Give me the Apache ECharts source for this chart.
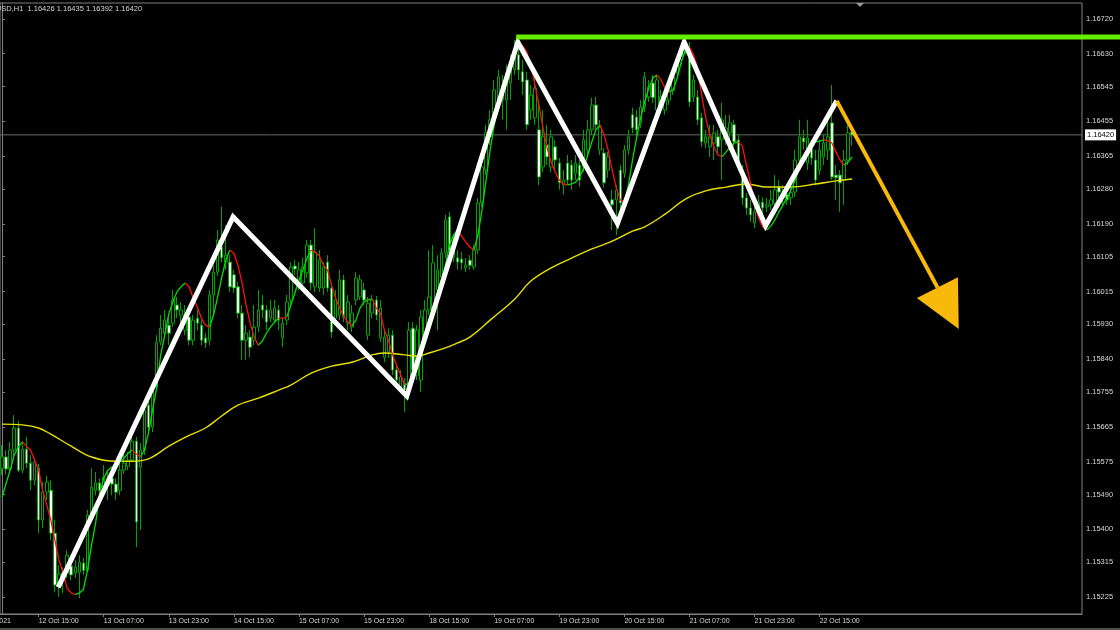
<!DOCTYPE html>
<html><head><meta charset="utf-8">
<script src="https://cdn.jsdelivr.net/npm/echarts@6/dist/echarts.min.js"></script>
<style>html,body{margin:0;padding:0;background:#000;}#c{width:1120px;height:630px;}</style>
</head><body><div id="c"></div>
<script>
// ---------- data ----------
const days = ['12 Oct','13 Oct','14 Oct','15 Oct','18 Oct','19 Oct','20 Oct','21 Oct','22 Oct'];
const firstHour = 6;
const emptySlots = 56;
const timeTicks = ['12 Oct 15:00','13 Oct 07:00','13 Oct 23:00','14 Oct 15:00','15 Oct 07:00','15 Oct 23:00','18 Oct 15:00','19 Oct 07:00','19 Oct 23:00','20 Oct 15:00','21 Oct 07:00','21 Oct 23:00','22 Oct 15:00'];
const priceTicks = [1.16720,1.16630,1.16545,1.16455,1.16365,1.16280,1.16190,1.16105,1.16015,1.15930,1.15840,1.15755,1.15665,1.15575,1.15490,1.15400,1.15315,1.15225];
const yMin = 1.15181, yMax = 1.16761;
const symbolTitle = 'EURUSD,H1  1.16426 1.16435 1.16392 1.16420';
const firstDateLabel = '12 Oct 2021';
const lastPrice = 1.16420;

// [open, close, low, high]
const ohlc = [
[1.15558,1.15587,1.15540,1.15618],[1.15587,1.15556,1.15543,1.15605],[1.15556,1.15605,1.15545,1.15626],[1.15605,1.15662,1.15589,1.15695],
[1.15662,1.15553,1.15548,1.15680],[1.15553,1.15607,1.15545,1.15628],[1.15607,1.15571,1.15558,1.15639],[1.15571,1.15527,1.15501,1.15592],
[1.15527,1.15574,1.15514,1.15584],[1.15558,1.15424,1.15390,1.15569],[1.15424,1.15496,1.15403,1.15522],[1.15496,1.15522,1.15476,1.15538],
[1.15501,1.15390,1.15372,1.15527],[1.15390,1.15256,1.15237,1.15424],[1.15256,1.15284,1.15225,1.15307],[1.15268,1.15289,1.15235,1.15302],
[1.15287,1.15333,1.15274,1.15346],[1.15305,1.15282,1.15268,1.15320],[1.15287,1.15302,1.15274,1.15320],[1.15289,1.15315,1.15222,1.15333],
[1.15313,1.15294,1.15282,1.15326],[1.15294,1.15437,1.15289,1.15450],[1.15437,1.15509,1.15424,1.15558],[1.15501,1.15520,1.15488,1.15548],
[1.15520,1.15501,1.15483,1.15532],[1.15509,1.15535,1.15494,1.15566],[1.15514,1.15532,1.15476,1.15553],[1.15532,1.15517,1.15488,1.15545],
[1.15517,1.15496,1.15476,1.15532],[1.15501,1.15553,1.15488,1.15579],[1.15553,1.15571,1.15543,1.15592],[1.15563,1.15579,1.15553,1.15600],
[1.15579,1.15628,1.15574,1.15644],[1.15628,1.15419,1.15354,1.15639],[1.15561,1.15605,1.15398,1.15623],[1.15605,1.15708,1.15592,1.15721],
[1.15721,1.15664,1.15651,1.15739],[1.15664,1.15768,1.15651,1.15778],[1.15768,1.15884,1.15760,1.15902],[1.15884,1.15920,1.15876,1.15954],
[1.15907,1.15941,1.15895,1.15967],[1.15928,1.15907,1.15876,1.15946],[1.15933,1.15993,1.15923,1.16019],[1.15980,1.15967,1.15946,1.16001],
[1.15954,1.15967,1.15928,1.15988],[1.15915,1.15954,1.15902,1.15980],[1.15949,1.15889,1.15876,1.15959],[1.15889,1.15941,1.15876,1.15954],
[1.15946,1.15933,1.15915,1.15967],[1.15928,1.15889,1.15876,1.15941],[1.15895,1.15882,1.15869,1.15907],[1.15889,1.16006,1.15876,1.16019],
[1.16006,1.16065,1.15954,1.16083],[1.16065,1.16148,1.16055,1.16174],[1.16130,1.16102,1.16091,1.16234],[1.16091,1.16109,1.16071,1.16187],
[1.16091,1.16027,1.16014,1.16109],[1.16058,1.16024,1.16011,1.16071],[1.16027,1.15959,1.15946,1.16040],[1.15959,1.15889,1.15838,1.15980],
[1.15889,1.15907,1.15838,1.15928],[1.15897,1.15871,1.15845,1.15915],[1.15889,1.15923,1.15876,1.15980],[1.15923,1.15967,1.15910,1.16019],
[1.15980,1.15967,1.15946,1.16006],[1.15967,1.15936,1.15915,1.15980],[1.15946,1.15967,1.15936,1.15993],[1.15941,1.15972,1.15936,1.15993],
[1.15967,1.15941,1.15915,1.15980],[1.15895,1.15933,1.15871,1.15946],[1.15941,1.15988,1.15928,1.16006],[1.15993,1.16078,1.15980,1.16091],
[1.16081,1.16073,1.16058,1.16096],[1.16037,1.16071,1.16019,1.16091],[1.16037,1.16078,1.16024,1.16102],[1.16063,1.16135,1.16050,1.16148],
[1.16135,1.16037,1.16019,1.16148],[1.16027,1.16117,1.16014,1.16179],[1.16024,1.16096,1.16014,1.16122],[1.16024,1.16078,1.16006,1.16091],
[1.16091,1.16024,1.16014,1.16109],[1.16024,1.15910,1.15895,1.16037],[1.15946,1.15993,1.15928,1.16019],[1.15954,1.16045,1.15941,1.16071],
[1.16045,1.15949,1.15936,1.16058],[1.15933,1.15988,1.15915,1.16006],[1.15923,1.15959,1.15910,1.15980],[1.15993,1.16050,1.15980,1.16065],
[1.16001,1.16045,1.15993,1.16058],[1.16019,1.15993,1.15980,1.16037],[1.15902,1.15985,1.15889,1.16001],[1.15959,1.15993,1.15946,1.16006],
[1.15993,1.15954,1.15941,1.16003],[1.15895,1.15972,1.15884,1.15993],[1.15845,1.15897,1.15832,1.15915],[1.15858,1.15902,1.15843,1.15920],
[1.15902,1.15812,1.15799,1.15915],[1.15812,1.15786,1.15773,1.15825],[1.15768,1.15794,1.15755,1.15812],[1.15778,1.15760,1.15703,1.15791],
[1.15760,1.15915,1.15747,1.15936],[1.15920,1.15812,1.15799,1.15936],[1.15799,1.15915,1.15786,1.15928],[1.15786,1.15949,1.15755,1.15967],
[1.15897,1.15967,1.15889,1.15993],[1.15967,1.16001,1.15954,1.16122],[1.15967,1.16089,1.15962,1.16135],[1.16019,1.16071,1.15915,1.16109],
[1.16052,1.16115,1.16037,1.16127],[1.16115,1.16200,1.16102,1.16213],[1.16208,1.16122,1.16109,1.16221],[1.16104,1.16148,1.16091,1.16161],
[1.16102,1.16091,1.16071,1.16122],[1.16099,1.16089,1.16071,1.16117],[1.16076,1.16083,1.16065,1.16102],[1.16096,1.16083,1.16071,1.16109],
[1.16078,1.16122,1.16071,1.16135],[1.16122,1.16244,1.16112,1.16257],[1.16244,1.16337,1.16234,1.16355],[1.16329,1.16425,1.16316,1.16446],
[1.16415,1.16459,1.16394,1.16484],[1.16459,1.16536,1.16446,1.16562],[1.16492,1.16570,1.16484,1.16588],[1.16510,1.16549,1.16459,1.16575],
[1.16510,1.16580,1.16433,1.16601],[1.16554,1.16606,1.16510,1.16627],[1.16588,1.16622,1.16575,1.16666],[1.16627,1.16588,1.16562,1.16660],
[1.16583,1.16557,1.16523,1.16614],[1.16562,1.16446,1.16433,1.16583],[1.16484,1.16523,1.16459,1.16549],[1.16464,1.16541,1.16446,1.16588],
[1.16433,1.16311,1.16290,1.16510],[1.16337,1.16415,1.16324,1.16484],[1.16394,1.16363,1.16342,1.16446],[1.16337,1.16415,1.16324,1.16433],
[1.16389,1.16355,1.16329,1.16407],[1.16347,1.16296,1.16278,1.16360],[1.16290,1.16303,1.16265,1.16329],[1.16347,1.16303,1.16290,1.16368],
[1.16342,1.16303,1.16278,1.16355],[1.16321,1.16347,1.16303,1.16368],[1.16342,1.16303,1.16285,1.16355],[1.16337,1.16407,1.16324,1.16433],
[1.16381,1.16433,1.16368,1.16459],[1.16433,1.16497,1.16420,1.16516],[1.16497,1.16446,1.16433,1.16518],[1.16381,1.16440,1.16368,1.16459],
[1.16373,1.16296,1.16283,1.16386],[1.16329,1.16363,1.16309,1.16376],[1.16252,1.16239,1.16174,1.16278],[1.16252,1.16278,1.16161,1.16290],
[1.16329,1.16244,1.16226,1.16342],[1.16321,1.16381,1.16309,1.16394],[1.16381,1.16415,1.16368,1.16433],[1.16472,1.16438,1.16425,1.16490],
[1.16466,1.16433,1.16415,1.16484],[1.16451,1.16492,1.16438,1.16510],[1.16492,1.16570,1.16479,1.16583],[1.16518,1.16544,1.16505,1.16562],
[1.16554,1.16516,1.16503,1.16575],[1.16484,1.16562,1.16472,1.16575],[1.16492,1.16518,1.16479,1.16536],[1.16484,1.16510,1.16472,1.16523],
[1.16510,1.16536,1.16497,1.16549],[1.16536,1.16570,1.16523,1.16588],[1.16580,1.16614,1.16567,1.16627],[1.16614,1.16647,1.16601,1.16660],
[1.16640,1.16653,1.16627,1.16666],[1.16640,1.16505,1.16492,1.16660],[1.16518,1.16562,1.16505,1.16575],[1.16518,1.16459,1.16446,1.16536],
[1.16464,1.16402,1.16389,1.16477],[1.16399,1.16415,1.16386,1.16433],[1.16389,1.16415,1.16363,1.16446],[1.16399,1.16425,1.16355,1.16446],
[1.16415,1.16389,1.16368,1.16433],[1.16407,1.16459,1.16303,1.16503],[1.16420,1.16438,1.16394,1.16472],[1.16425,1.16451,1.16407,1.16472],
[1.16446,1.16402,1.16389,1.16459],[1.16407,1.16350,1.16334,1.16420],[1.16329,1.16257,1.16239,1.16342],[1.16257,1.16231,1.16213,1.16270],
[1.16231,1.16213,1.16195,1.16252],[1.16192,1.16221,1.16179,1.16239],[1.16226,1.16246,1.16213,1.16265],[1.16246,1.16231,1.16218,1.16259],
[1.16234,1.16239,1.16221,1.16257],[1.16239,1.16252,1.16226,1.16278],[1.16244,1.16278,1.16231,1.16316],[1.16285,1.16272,1.16252,1.16303],
[1.16257,1.16270,1.16239,1.16290],[1.16265,1.16252,1.16239,1.16283],[1.16257,1.16270,1.16239,1.16290],[1.16272,1.16355,1.16259,1.16381],
[1.16355,1.16415,1.16342,1.16459],[1.16412,1.16402,1.16381,1.16433],[1.16347,1.16412,1.16329,1.16459],[1.16386,1.16360,1.16342,1.16407],
[1.16355,1.16303,1.16290,1.16381],[1.16329,1.16381,1.16316,1.16407],[1.16363,1.16399,1.16342,1.16420],[1.16381,1.16415,1.16355,1.16472],
[1.16451,1.16311,1.16303,1.16549],[1.16316,1.16309,1.16252,1.16342],[1.16316,1.16296,1.16221,1.16329],[1.16303,1.16355,1.16239,1.16381],
[1.16355,1.16425,1.16342,1.16446],[1.16426,1.16420,1.16392,1.16435]
];

// fast (red/green) moving average, one value per bar
const fastMA = [
1.15483,1.15519,1.15553,1.15592,1.15613,1.15626,1.15615,1.15605,1.15579,1.15553,
1.15501,1.15463,1.15424,1.15372,1.15320,1.15287,1.15248,1.15235,1.15232,1.15235,
1.15244,1.15294,1.15359,1.15416,1.15493,1.15532,1.15553,1.15561,1.15566,1.15574,
1.15584,1.15597,1.15605,1.15595,1.15587,1.15605,1.15649,1.15708,1.15765,1.15851,
1.15902,1.15957,1.15988,1.16014,1.16027,1.16037,1.16027,1.15998,1.15975,1.15946,
1.15928,1.15923,1.15954,1.16001,1.16050,1.16096,1.16122,1.16114,1.16083,1.16037,
1.15980,1.15933,1.15897,1.15876,1.15887,1.15907,1.15923,1.15936,1.15946,1.15946,
1.15949,1.15980,1.16011,1.16045,1.16071,1.16102,1.16122,1.16117,1.16107,1.16083,
1.16071,1.16032,1.15998,1.15972,1.15951,1.15936,1.15926,1.15941,1.15972,1.15988,
1.15993,1.15996,1.15972,1.15959,1.15915,1.15889,1.15851,1.15825,1.15799,1.15773,
1.15778,1.15791,1.15825,1.15858,1.15882,1.15915,1.15954,1.15993,1.16037,1.16083,
1.16135,1.16161,1.16174,1.16158,1.16143,1.16130,1.16122,1.16161,1.16226,1.16303,
1.16381,1.16446,1.16497,1.16531,1.16562,1.16601,1.16634,1.16655,1.16650,1.16634,
1.16601,1.16549,1.16497,1.16438,1.16386,1.16350,1.16324,1.16303,1.16293,1.16290,
1.16293,1.16298,1.16311,1.16334,1.16368,1.16402,1.16433,1.16446,1.16420,1.16381,
1.16329,1.16283,1.16252,1.16246,1.16290,1.16355,1.16412,1.16464,1.16505,1.16541,
1.16567,1.16575,1.16562,1.16541,1.16531,1.16536,1.16567,1.16609,1.16640,1.16647,
1.16627,1.16593,1.16523,1.16464,1.16420,1.16389,1.16368,1.16363,1.16376,1.16389,
1.16399,1.16402,1.16391,1.16342,1.16296,1.16239,1.16205,1.16182,1.16174,1.16184,
1.16200,1.16221,1.16239,1.16257,1.16278,1.16303,1.16334,1.16360,1.16381,1.16394,
1.16402,1.16404,1.16407,1.16405,1.16399,1.16376,1.16355,1.16342,1.16350,1.16363
];
// bar ranges where the fast average is falling (drawn red)
const fastDown = [[5,18],[32,34],[45,51],[56,63],[68,70],[76,86],[91,99],[112,116],[127,139],[147,153],[161,164],[169,177],[181,188],[202,207]];

// slow (yellow) moving average, [bar, price]
const slowMA = [
[0,1.15672],[5,1.15670],[9,1.15662],[12,1.15646],[17,1.15615],[22,1.15587],[28,1.15576],[32,1.15576],[36,1.15582],
[41,1.15615],[45,1.15638],[50,1.15662],[54,1.15693],[58,1.15721],[63,1.15739],[68,1.15760],[71,1.15773],[76,1.15804],
[81,1.15822],[86,1.15832],[91,1.15851],[94,1.15856],[99,1.15851],[102,1.15848],[105,1.15856],[109,1.15869],[112,1.15882],
[115,1.15897],[120,1.15941],[126,1.15995],[130,1.16042],[135,1.16076],[140,1.16101],[145,1.16125],[150,1.16145],[155,1.16171],
[158,1.16182],[163,1.16215],[168,1.16254],[173,1.16275],[178,1.16285],[183,1.16293],[188,1.16285],[194,1.16285],[200,1.16293],
[205,1.16301],[209,1.16306]
];

// hand-drawn annotations, [bar position, price]
const zigzag = [[13.8,1.15250],[56.8,1.16208],[99.5,1.15745],[126.8,1.16660],[151.3,1.16191],[167.7,1.16660],[187.7,1.16185],[205.2,1.16508]];
const resistancePrice = 1.16673;
const resistanceStartBar = 126.4;
const arrowLine = [[205.2,1.16508],[230.0,1.16025]];
const arrowHead = [[224.9,1.15998],[235.0,1.16052],[235.2,1.15918]];

// ---------- build ----------
const cats = [];
days.forEach((d, k) => {
  for (let h = (k === 0 ? firstHour : 0); h < 24; h++) cats.push(d + ' ' + String(h).padStart(2, '0') + ':00');
});
for (let k = 0; k < emptySlots; k++) cats.push('~' + k);
const tickSet = new Set(timeTicks);
const lastSlot = cats.length - 0.5;

const inDown = i => fastDown.some(r => i >= r[0] && i <= r[1]);
const inDownStrict = i => fastDown.some(r => i > r[0] && i < r[1]);
const fastGreen = fastMA.map((v, i) => inDownStrict(i) ? null : [i, v]);
const fastRed = fastMA.map((v, i) => inDown(i) ? [i, v] : null);

const GRID_COLOR = '#808080';
const TXT = '#d6d6d6';
const FONT = 'Liberation Sans';
const RES_COLOR = '#66ee00';

const chart = echarts.init(document.getElementById('c'), null, {renderer: 'canvas'});
chart.setOption({
  backgroundColor: '#000',
  animation: false,
  textStyle: {fontFamily: FONT},
  grid: [
    {left: 0, right: 38, top: 3, bottom: 16, show: true, borderColor: GRID_COLOR, borderWidth: 1, backgroundColor: '#000'},
    {left: 1082, right: 0, top: 3, bottom: 16, show: false}
  ],
  xAxis: [
    {
      type: 'category', gridIndex: 0, data: cats, boundaryGap: true,
      axisLine: {show: true, lineStyle: {color: GRID_COLOR}},
      axisTick: {show: true, alignWithLabel: true, interval: (i) => tickSet.has(cats[i]), length: 3, lineStyle: {color: GRID_COLOR}},
      axisLabel: {interval: (i, v) => tickSet.has(v), align: 'left', color: TXT, fontSize: 7, margin: 4, fontFamily: FONT},
      splitLine: {show: false}
    },
    {type: 'value', gridIndex: 0, min: -0.5, max: lastSlot, show: false},
    {type: 'value', gridIndex: 1, min: 0, max: 1, show: false}
  ],
  yAxis: [
    {
      type: 'value', gridIndex: 0, position: 'right', min: yMin, max: yMax,
      axisLine: {show: true, lineStyle: {color: GRID_COLOR}},
      axisTick: {show: true, customValues: priceTicks, length: 3, lineStyle: {color: GRID_COLOR}},
      axisLabel: {customValues: priceTicks, formatter: v => v.toFixed(5), color: TXT, fontSize: 7.5, margin: 4, fontFamily: FONT},
      splitLine: {show: false}
    },
    {type: 'value', gridIndex: 1, min: yMin, max: yMax, show: false}
  ],
  series: [
    {
      type: 'line', xAxisIndex: 1, yAxisIndex: 0, data: [[-0.5, lastPrice], [lastSlot, lastPrice]],
      showSymbol: false, z: 1, silent: true,
      lineStyle: {color: '#6a6a6a', width: 1},
      endLabel: {show: true, formatter: lastPrice.toFixed(5), backgroundColor: '#ffffff', color: '#000000', fontSize: 7.5, padding: [2, 2, 1, 2], distance: 3, fontFamily: FONT}
    },
    {
      type: 'candlestick', xAxisIndex: 0, yAxisIndex: 0, data: ohlc, barWidth: 3, z: 2,
      itemStyle: {color: '#000000', color0: '#ffffff', borderColor: '#00a400', borderColor0: '#00a400', borderWidth: 1}
    },
    {type: 'line', xAxisIndex: 0, yAxisIndex: 0, data: slowMA, smooth: 0.4, showSymbol: false, z: 3, lineStyle: {color: '#e8e000', width: 1.4}},
    {type: 'line', xAxisIndex: 0, yAxisIndex: 0, data: fastGreen, showSymbol: false, connectNulls: false, z: 4, lineStyle: {color: '#00e000', width: 1.3}},
    {type: 'line', xAxisIndex: 0, yAxisIndex: 0, data: fastRed, showSymbol: false, connectNulls: false, z: 4, lineStyle: {color: '#ff1010', width: 1.3}},
    {type: 'line', xAxisIndex: 1, yAxisIndex: 0, data: zigzag, showSymbol: false, z: 6, lineStyle: {color: '#ffffff', width: 5, join: 'miter'}},
    {type: 'line', xAxisIndex: 1, yAxisIndex: 0, data: [[resistanceStartBar, resistancePrice], [lastSlot, resistancePrice]], showSymbol: false, z: 7, lineStyle: {color: RES_COLOR, width: 5, cap: 'butt'}},
    {type: 'line', xAxisIndex: 2, yAxisIndex: 1, data: [[0, resistancePrice], [1, resistancePrice]], showSymbol: false, z: 7, lineStyle: {color: RES_COLOR, width: 5, cap: 'butt'}},
    {type: 'line', xAxisIndex: 1, yAxisIndex: 0, data: arrowLine, showSymbol: false, z: 7, lineStyle: {color: '#f8b90a', width: 4, cap: 'butt'}},
    {
      type: 'custom', xAxisIndex: 1, yAxisIndex: 0, data: arrowHead, z: 7,
      renderItem: (params, api) => {
        if (params.dataIndex !== 0) return null;
        return {type: 'polygon', shape: {points: arrowHead.map(p => api.coord(p))}, style: {fill: '#f8b90a'}};
      }
    }
  ],
  graphic: [
    {type: 'text', left: -20, top: 5, z: 10, style: {text: symbolTitle, fill: TXT, font: '7.5px "Liberation Sans"'}},
    {type: 'text', x: 11, y: 618, z: 10, style: {text: firstDateLabel, fill: TXT, font: '7px "Liberation Sans"', align: 'right', verticalAlign: 'top'}},
    {type: 'polygon', z: 10, shape: {points: [[856, 3], [864, 3], [860, 7]]}, style: {fill: '#9a9a9a'}},
    {type: 'line', z: 10, shape: {x1: 0, y1: 629, x2: 1120, y2: 629}, style: {stroke: '#9a9a9a', lineWidth: 1}}
  ]
});
</script></body></html>
